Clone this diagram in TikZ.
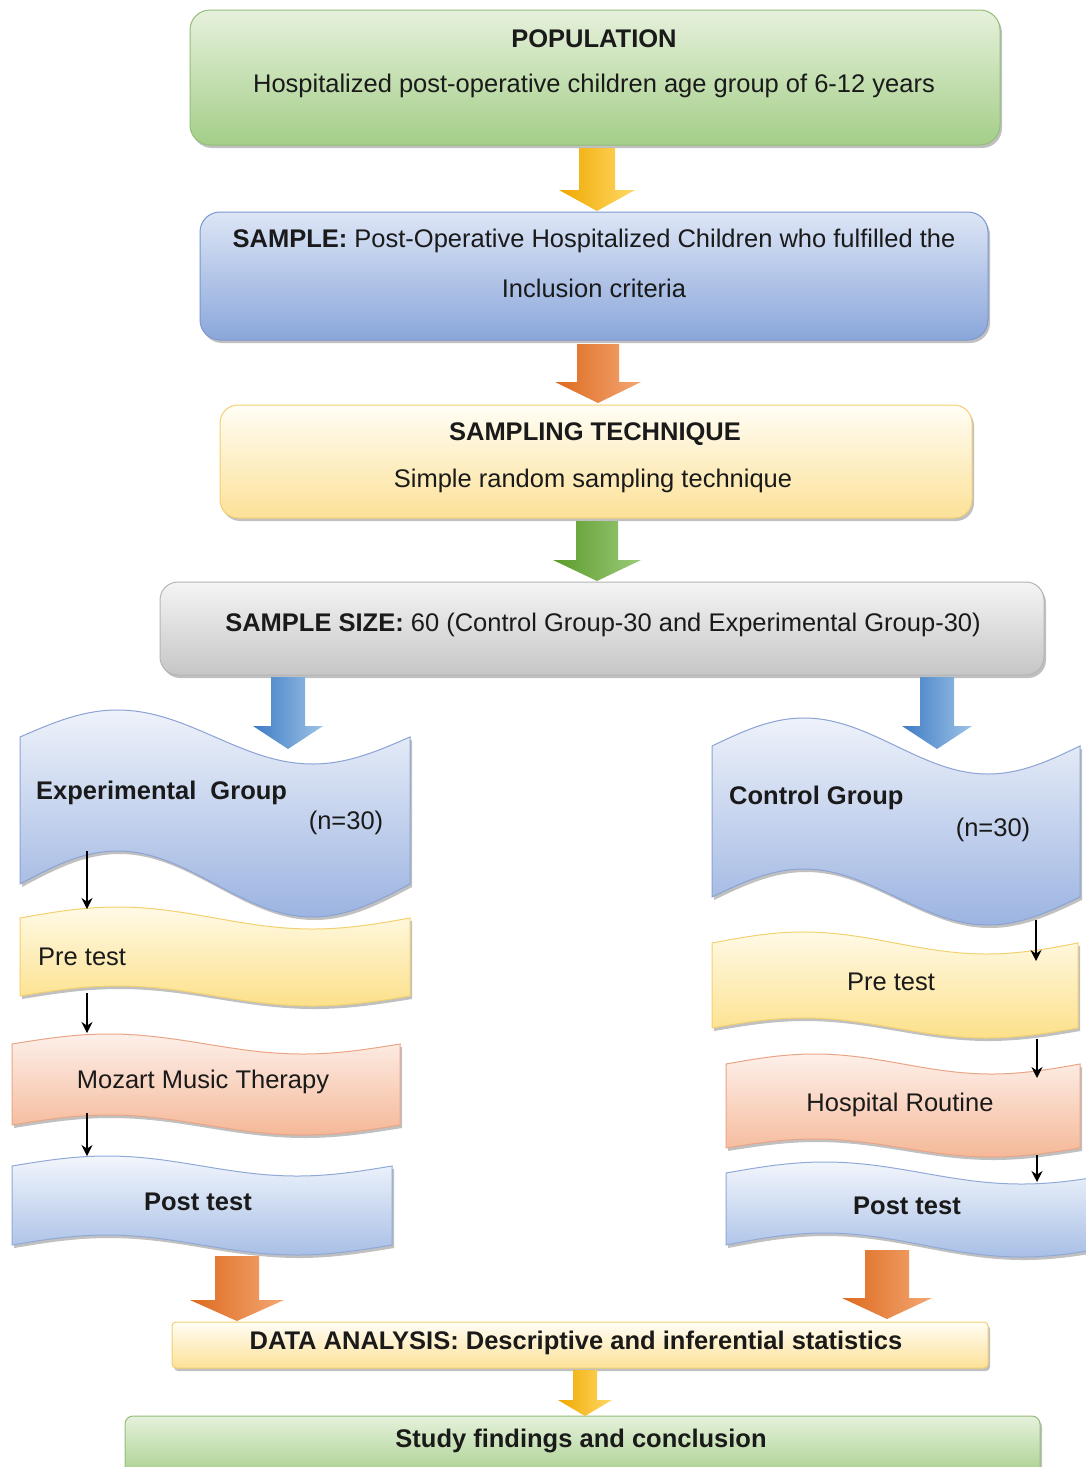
\documentclass[tikz,border=0pt]{standalone}
\usepackage{fontspec}
\setmainfont{Liberation Sans}
\usetikzlibrary{shadows,arrows.meta,calc}

\definecolor{popTop}{HTML}{E6F1DC}
\definecolor{popBot}{HTML}{A4CE88}
\definecolor{popBrd}{HTML}{94BE78}
\definecolor{smpTop}{HTML}{DDE6F6}
\definecolor{smpBot}{HTML}{8AA6DA}
\definecolor{smpBrd}{HTML}{7B97CF}
\definecolor{tecTop}{HTML}{FFFDF5}
\definecolor{tecBot}{HTML}{FCE197}
\definecolor{tecBrd}{HTML}{F2CF72}
\definecolor{sizTop}{HTML}{F4F4F4}
\definecolor{sizBot}{HTML}{C6C6C6}
\definecolor{sizBrd}{HTML}{B5B5B5}
\definecolor{wblTop}{HTML}{EEF2FA}
\definecolor{wblBot}{HTML}{9CB4E1}
\definecolor{wblBrd}{HTML}{8BA3D4}
\definecolor{wylTop}{HTML}{FFFAE6}
\definecolor{wylBot}{HTML}{FCE08A}
\definecolor{wylBrd}{HTML}{F3D16E}
\definecolor{wpcTop}{HTML}{FDF0EA}
\definecolor{wpcBot}{HTML}{F5B898}
\definecolor{wpcBrd}{HTML}{EAA586}
\definecolor{wptTop}{HTML}{F2F6FC}
\definecolor{wptBot}{HTML}{A8BFE6}
\definecolor{wptBrd}{HTML}{90A9D8}
\definecolor{arYL}{HTML}{F0A800}
\definecolor{arYM}{HTML}{FFC000}
\definecolor{arYR}{HTML}{FFD966}
\definecolor{arOL}{HTML}{DD6A1E}
\definecolor{arOM}{HTML}{ED7D31}
\definecolor{arOR}{HTML}{F4A774}
\definecolor{arGL}{HTML}{5A9A2A}
\definecolor{arGM}{HTML}{70AD47}
\definecolor{arGR}{HTML}{9CCB7A}
\definecolor{arBL}{HTML}{3E7BC4}
\definecolor{arBM}{HTML}{5B9BD5}
\definecolor{arBR}{HTML}{9DC3E6}
\definecolor{txtc}{HTML}{1A1A1A}

\newcommand\wavebox[7]{%
  \pgfmathsetmacro\wq{(#2-#1)/4}%
  \path[#7] (#1,#3) sin ++(\wq,-#5) cos ++(\wq,#5) sin ++(\wq,#5) cos ++(\wq,-#5)
    -- (#2,#4) sin ++(-\wq,#6) cos ++(-\wq,-#6) sin ++(-\wq,-#6) cos ++(-\wq,#6) -- cycle;}

\newcommand\blockarrow[7]{%
  \path[#7] (#1-#5,#2) -- (#1+#5,#2) -- (#1+#5,#3) -- (#1+#6,#3) -- (#1,#4)
    -- (#1-#6,#3) -- (#1-#5,#3) -- cycle;}

\tikzset{
  shd/.style={drop shadow={shadow xshift=2pt,shadow yshift=-3pt,opacity=0.35,fill=black!70}},
  txt/.style={font=\fontsize{25.5}{30}\selectfont, inner sep=0pt, text=txtc},
  btxt/.style={txt, font=\fontsize{25.5}{30}\selectfont\bfseries},
  popbox/.style={shd, draw=popBrd, line width=1pt, top color=popTop, bottom color=popBot, rounded corners=20pt},
  smpbox/.style={shd, draw=smpBrd, line width=1pt, top color=smpTop, bottom color=smpBot, rounded corners=20pt},
  tecbox/.style={shd, draw=tecBrd, line width=1pt, top color=tecTop, bottom color=tecBot, rounded corners=18pt},
  sizbox/.style={shd, draw=sizBrd, line width=1pt, top color=sizTop, bottom color=sizBot, rounded corners=18pt},
  dabox/.style={shd, draw=tecBrd, line width=1pt, top color=tecTop, bottom color=tecBot, rounded corners=4pt},
  sfbox/.style={shd, draw=popBrd, line width=1pt, top color=popTop, bottom color=popBot, rounded corners=8pt},
  wblue/.style={shd, draw=wblBrd, line width=1pt, top color=wblTop, bottom color=wblBot},
  wyell/.style={shd, draw=wylBrd, line width=1pt, top color=wylTop, bottom color=wylBot},
  wpeach/.style={shd, draw=wpcBrd, line width=1pt, top color=wpcTop, bottom color=wpcBot},
  wpost/.style={shd, draw=wptBrd, line width=1pt, top color=wptTop, bottom color=wptBot},
  ayel/.style={left color=arYL, middle color=arYM, right color=arYR},
  aora/.style={left color=arOL, middle color=arOM, right color=arOR},
  agrn/.style={left color=arGL, middle color=arGM, right color=arGR},
  ablu/.style={left color=arBL, middle color=arBM, right color=arBR},
  thin arrow/.style={-{Stealth[length=11pt,width=11pt]}, line width=1.3pt, black},
}

\begin{document}
\begin{tikzpicture}[x=1pt,y=-1pt]
\useasboundingbox[fill=white] (0,0) rectangle (1086,1467);

% ---------- main boxes ----------
\path[popbox] (190,10) rectangle (1000,145);
\node[btxt] (popT) at (594,39) {POPULATION};
\node[txt] (popS) at (594,86) {Hospitalized post-operative children age group of 6-12 years};

\path[smpbox] (200,212) rectangle (988,340);
\node[txt] (smpA) at (594,241) {\textbf{SAMPLE:} Post-Operative Hospitalized Children who fulfilled the};
\node[txt] (smpB) at (594,288) {Inclusion criteria};

\path[tecbox] (220,405) rectangle (972,518);
\node[btxt] (tecT) at (595,434) {SAMPLING TECHNIQUE};
\node[txt] (tecS) at (593,481) {Simple random sampling technique};

\path[sizbox] (160,582) rectangle (1044,675);
\node[txt] (siz) at (603,625) {\textbf{SAMPLE SIZE:} 60 (Control Group-30 and Experimental Group-30)};

% ---------- left column ----------
\wavebox{20}{410}{737}{884}{27}{33}{wblue}
\node[btxt, anchor=west] (expT) at (36,793) {Experimental\ \ Group};
\node[txt] (expN) at (346,823) {(n=30)};

\wavebox{20}{410}{918}{996}{11}{10}{wyell}
\node[txt, anchor=west] (preL) at (38,957) {Pre test};

\wavebox{12}{400}{1044}{1125}{10}{10}{wpeach}
\node[txt] (moz) at (203,1082) {Mozart Music Therapy};

\wavebox{12}{392}{1166}{1245}{10}{10}{wpost}
\node[btxt] (postL) at (198,1202) {Post test};

% ---------- right column ----------
\wavebox{712}{1080}{746}{897}{28}{28}{wblue}
\node[btxt, anchor=west] (conT) at (729,798) {Control Group};
\node[txt] (conN) at (993,830) {(n=30)};

\wavebox{712}{1078}{943}{1028}{11}{10}{wyell}
\node[txt] (preR) at (891,982) {Pre test};

\wavebox{726}{1080}{1064}{1148}{10}{9}{wpeach}
\node[txt] (hosp) at (900,1105) {Hospital Routine};

\wavebox{726}{1120}{1173}{1245}{11}{12}{wpost}
\node[btxt] (postR) at (907,1206) {Post test};

% ---------- bottom boxes ----------
\path[dabox] (172,1322) rectangle (988,1368);
\node[btxt] (da) at (576,1343) {DATA ANALYSIS: Descriptive and inferential statistics};

\path[sfbox] (125,1416) rectangle (1040,1480);
\node[btxt] (sf) at (581,1441) {Study findings and conclusion};

% ---------- block arrows ----------
\blockarrow{597}{148}{190}{211}{18}{38}{ayel}
\blockarrow{598}{344}{382}{403}{21}{43}{aora}
\blockarrow{597}{521}{560}{581}{21}{44}{agrn}
\blockarrow{288}{677}{726}{749}{17}{35}{ablu}
\blockarrow{937}{677}{726}{749}{17}{35}{ablu}
\blockarrow{237}{1256}{1300}{1321}{22}{47}{aora}
\blockarrow{887}{1250}{1298}{1319}{22}{45}{aora}
\blockarrow{585}{1370}{1400}{1416}{12}{27}{ayel}

% ---------- thin arrows ----------
\coordinate (l1a) at (87,851);  \coordinate (l1b) at (87,909);
\coordinate (l2a) at (87,993);  \coordinate (l2b) at (87,1033);
\coordinate (l3a) at (87,1113); \coordinate (l3b) at (87,1156);
\coordinate (r1a) at (1036,920); \coordinate (r1b) at (1036,961);
\coordinate (r2a) at (1037,1039); \coordinate (r2b) at (1037,1078);
\coordinate (r3a) at (1037,1155); \coordinate (r3b) at (1037,1182);
\draw[thin arrow] (l1a) -- (l1b);
\draw[thin arrow] (l2a) -- (l2b);
\draw[thin arrow] (l3a) -- (l3b);
\draw[thin arrow] (r1a) -- (r1b);
\draw[thin arrow] (r2a) -- (r2b);
\draw[thin arrow] (r3a) -- (r3b);
\end{tikzpicture}
\end{document}
